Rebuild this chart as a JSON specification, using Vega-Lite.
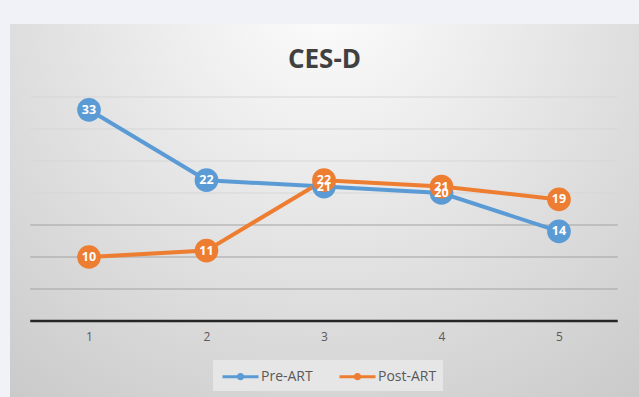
{
  "$schema": "https://vega.github.io/schema/vega-lite/v6.json",
  "width": 629,
  "height": 373,
  "autosize": {"type": "none"},
  "padding": {"left": 10, "top": 24, "right": 0, "bottom": 0},
  "background": "#f1f2f7",
  "view": {
    "stroke": null,
    "fill": {
      "gradient": "radial",
      "x1": 0.5, "y1": 0.15, "r1": 0,
      "x2": 0.5, "y2": 0.15, "r2": 0.85,
      "stops": [
        {"offset": 0, "color": "#fdfdfd"},
        {"offset": 1, "color": "#c8c8c8"}
      ]
    }
  },
  "title": {
    "text": "CES-D",
    "font": "Open Sans",
    "fontSize": 26,
    "fontWeight": "bold",
    "color": "#404040",
    "anchor": "middle",
    "frame": "group",
    "baseline": "alphabetic",
    "offset": -70
  },
  "datasets": {
    "grid": [{"g": 5}, {"g": 10}, {"g": 15}, {"g": 20}, {"g": 25}, {"g": 30}, {"g": 35}],
    "base": [{"g": 0}],
    "scores": [
      {"x": 1, "series": "Pre-ART", "v": 33},
      {"x": 2, "series": "Pre-ART", "v": 22},
      {"x": 3, "series": "Pre-ART", "v": 21},
      {"x": 4, "series": "Pre-ART", "v": 20},
      {"x": 5, "series": "Pre-ART", "v": 14},
      {"x": 1, "series": "Post-ART", "v": 10},
      {"x": 2, "series": "Post-ART", "v": 11},
      {"x": 3, "series": "Post-ART", "v": 22},
      {"x": 4, "series": "Post-ART", "v": 21},
      {"x": 5, "series": "Post-ART", "v": 19}
    ]
  },
  "config": {
    "axisX": {
      "title": null,
      "domain": false,
      "ticks": false,
      "grid": false,
      "offset": -76,
      "labelFont": "Open Sans",
      "labelFontSize": 12,
      "labelColor": "#595959",
      "labelPadding": 10,
      "format": "d"
    },
    "legend": {
      "orient": "none",
      "legendX": 203,
      "legendY": 336,
      "direction": "horizontal",
      "fillColor": "#e6e6e6",
      "padding": 6,
      "labelFont": "Open Sans",
      "labelFontSize": 14,
      "labelColor": "#595959",
      "columnPadding": 20,
      "labelOffset": 10,
      "symbolOffset": 11
    }
  },
  "layer": [
    {
      "data": {"name": "grid"},
      "mark": {"type": "rule", "strokeWidth": 1},
      "encoding": {
        "x": {"datum": 0.5, "type": "quantitative", "scale": {"domain": [0.3277, 5.681], "nice": false, "zero": false}, "axis": {"values": [1, 2, 3, 4, 5]}},
        "x2": {"datum": 5.5},
        "y": {"field": "g", "type": "quantitative", "scale": {"domain": [-11.875, 46.406], "nice": false, "zero": false}, "axis": null},
        "stroke": {"condition": {"test": "datum.g <= 15", "value": "#a3a3a3"}, "value": "#d6d6d6"}
      }
    },
    {
      "data": {"name": "base"},
      "mark": {"type": "rule", "strokeWidth": 2.5, "color": "#262626"},
      "encoding": {
        "x": {"datum": 0.5, "type": "quantitative", "scale": {"domain": [0.3277, 5.681], "nice": false, "zero": false}, "axis": {"values": [1, 2, 3, 4, 5]}},
        "x2": {"datum": 5.5},
        "y": {"field": "g", "type": "quantitative", "scale": {"domain": [-11.875, 46.406], "nice": false, "zero": false}, "axis": null}
      }
    },
    {
      "data": {"name": "scores"},
      "mark": {"type": "line", "strokeWidth": 4},
      "encoding": {
        "x": {"field": "x", "type": "quantitative", "scale": {"domain": [0.3277, 5.681], "nice": false, "zero": false}, "axis": {"values": [1, 2, 3, 4, 5]}},
        "y": {"field": "v", "type": "quantitative", "scale": {"domain": [-11.875, 46.406], "nice": false, "zero": false}, "axis": null},
        "color": {
          "field": "series", "type": "nominal",
          "scale": {"domain": ["Pre-ART", "Post-ART"], "range": ["#5b9bd5", "#ed7d31"]},
          "legend": {"title": null, "symbolType": "M-2,0H2M-0.24,0A0.24,0.24 0 1,1 0.24,0A0.24,0.24 0 1,1 -0.24,0", "symbolSize": 324, "symbolStrokeWidth": 3}
        }
      }
    },
    {
      "data": {"name": "scores"},
      "mark": {"type": "circle", "size": 560, "opacity": 1},
      "encoding": {
        "x": {"field": "x", "type": "quantitative", "scale": {"domain": [0.3277, 5.681], "nice": false, "zero": false}, "axis": {"values": [1, 2, 3, 4, 5]}},
        "y": {"field": "v", "type": "quantitative", "scale": {"domain": [-11.875, 46.406], "nice": false, "zero": false}, "axis": null},
        "color": {
          "field": "series", "type": "nominal",
          "scale": {"domain": ["Pre-ART", "Post-ART"], "range": ["#5b9bd5", "#ed7d31"]},
          "legend": {"title": null, "symbolType": "M-2,0H2M-0.24,0A0.24,0.24 0 1,1 0.24,0A0.24,0.24 0 1,1 -0.24,0", "symbolSize": 324, "symbolStrokeWidth": 3}
        }
      }
    },
    {
      "data": {"name": "scores"},
      "mark": {"type": "text", "color": "white", "font": "Open Sans", "fontWeight": "bold", "fontSize": 12.5, "align": "center", "baseline": "middle"},
      "encoding": {
        "x": {"field": "x", "type": "quantitative", "scale": {"domain": [0.3277, 5.681], "nice": false, "zero": false}, "axis": {"values": [1, 2, 3, 4, 5]}},
        "y": {"field": "v", "type": "quantitative", "scale": {"domain": [-11.875, 46.406], "nice": false, "zero": false}, "axis": null},
        "text": {"field": "v", "type": "quantitative"}
      }
    }
  ]
}
